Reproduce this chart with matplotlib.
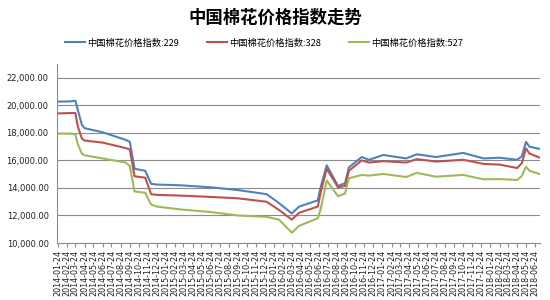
import matplotlib
matplotlib.use("Agg")
import matplotlib.pyplot as plt
import matplotlib.dates as mdates
from matplotlib.ticker import FuncFormatter
import pandas as pd

plt.rcParams['font.family'] = ['Noto Sans CJK SC', 'DejaVu Sans']

# dates (irregular, at visible turning points)
dates = [
    "2014-01-24", "2014-03-10", "2014-03-24", "2014-04-01", "2014-04-15",
    "2014-04-24", "2014-06-24", "2014-09-10", "2014-09-24", "2014-10-10",
    "2014-11-15", "2014-12-05", "2014-12-24", "2015-03-10", "2015-06-24",
    "2015-09-24", "2015-12-30", "2016-02-10", "2016-03-24", "2016-04-18",
    "2016-06-20", "2016-06-30", "2016-07-20", "2016-08-27", "2016-09-20",
    "2016-10-03", "2016-11-15", "2016-12-10", "2017-01-27", "2017-04-15",
    "2017-05-20", "2017-07-24", "2017-10-24", "2018-01-01", "2018-02-24",
    "2018-04-24", "2018-05-10", "2018-05-24", "2018-06-05", "2018-07-08",
]

idx_229 = [
    20280, 20300, 20350, 19700, 18600, 18350, 18050, 17500, 17350, 15400,
    15250, 14300, 14250, 14200, 14050, 13850, 13550, 12900, 12150, 12650,
    13100, 14100, 15650, 14150, 14350, 15500, 16250, 16050, 16400, 16150,
    16450, 16250, 16550, 16150, 16200, 16050, 16300, 17350, 17000, 16850,
]
idx_328 = [
    19420, 19450, 19450, 18500, 17600, 17450, 17300, 16900, 16800, 14850,
    14750, 13550, 13500, 13450, 13350, 13250, 13000, 12400, 11700, 12200,
    12650, 13700, 15400, 14050, 14150, 15250, 16000, 15850, 15950, 15850,
    16100, 15920, 16050, 15750, 15700, 15450, 15800, 16880, 16500, 16220,
]
idx_527 = [
    17960, 17950, 17900, 17200, 16500, 16380, 16150, 15850, 15600, 13750,
    13650, 12800, 12650, 12450, 12250, 12000, 11900, 11700, 10750, 11250,
    11800, 12500, 14550, 13400, 13600, 14700, 14950, 14900, 15020, 14800,
    15100, 14820, 14950, 14630, 14650, 14580, 14870, 15550, 15250, 15020,
]

series = [
    ("中国棉花价格指数:229", idx_229, "#4F81BD"),
    ("中国棉花价格指数:328", idx_328, "#C0504D"),
    ("中国棉花价格指数:527", idx_527, "#9BBB59"),
]

x = pd.to_datetime(dates)

fig = plt.figure(figsize=(5.5, 3.0), dpi=100)
ax = fig.add_axes([0.1036, 0.19, 0.878, 0.596])

for label, vals, color in series:
    ax.plot(x, vals, color=color, lw=1.5, label=label)

ax.set_ylim(10000, 23000)
ax.set_yticks(range(10000, 22001, 2000))
ax.yaxis.set_major_formatter(FuncFormatter(lambda v, p: f"{v:,.2f}"))
ax.grid(axis='y', color='#8c8c8c', lw=0.8)
ax.set_axisbelow(True)

# monthly ticks on the 24th
ticks = pd.date_range("2014-01-01", "2018-06-01", freq="MS") + pd.Timedelta(days=23)
ax.set_xticks(ticks)
ax.xaxis.set_major_formatter(mdates.DateFormatter("%Y-%m-%d"))
ax.set_xlim(pd.Timestamp("2014-01-21"), pd.Timestamp("2018-07-10"))

for s in ("top", "right"):
    ax.spines[s].set_visible(False)
for s in ("left", "bottom"):
    ax.spines[s].set_color('#8c8c8c')
    ax.spines[s].set_linewidth(0.8)

ax.tick_params(axis='y', length=0, labelsize=6, pad=6, labelcolor='#222222')
ax.tick_params(axis='x', length=3, color='#8c8c8c', labelsize=5.8,
               labelrotation=90, pad=2, labelcolor='#222222')
for t in ax.get_xticklabels() + ax.get_yticklabels():
    t.set_family('DejaVu Sans')

fig.text(0.5, 0.94, "中国棉花价格指数走势", ha='center', va='center',
         fontsize=12.5, fontweight='bold')
fig.legend(loc='center', bbox_to_anchor=(0.48, 0.857), ncol=3, frameon=False,
           fontsize=6.7, handlelength=2.2, handletextpad=0.2, columnspacing=3.0)

fig.savefig("out.png", dpi=100, facecolor='white')
